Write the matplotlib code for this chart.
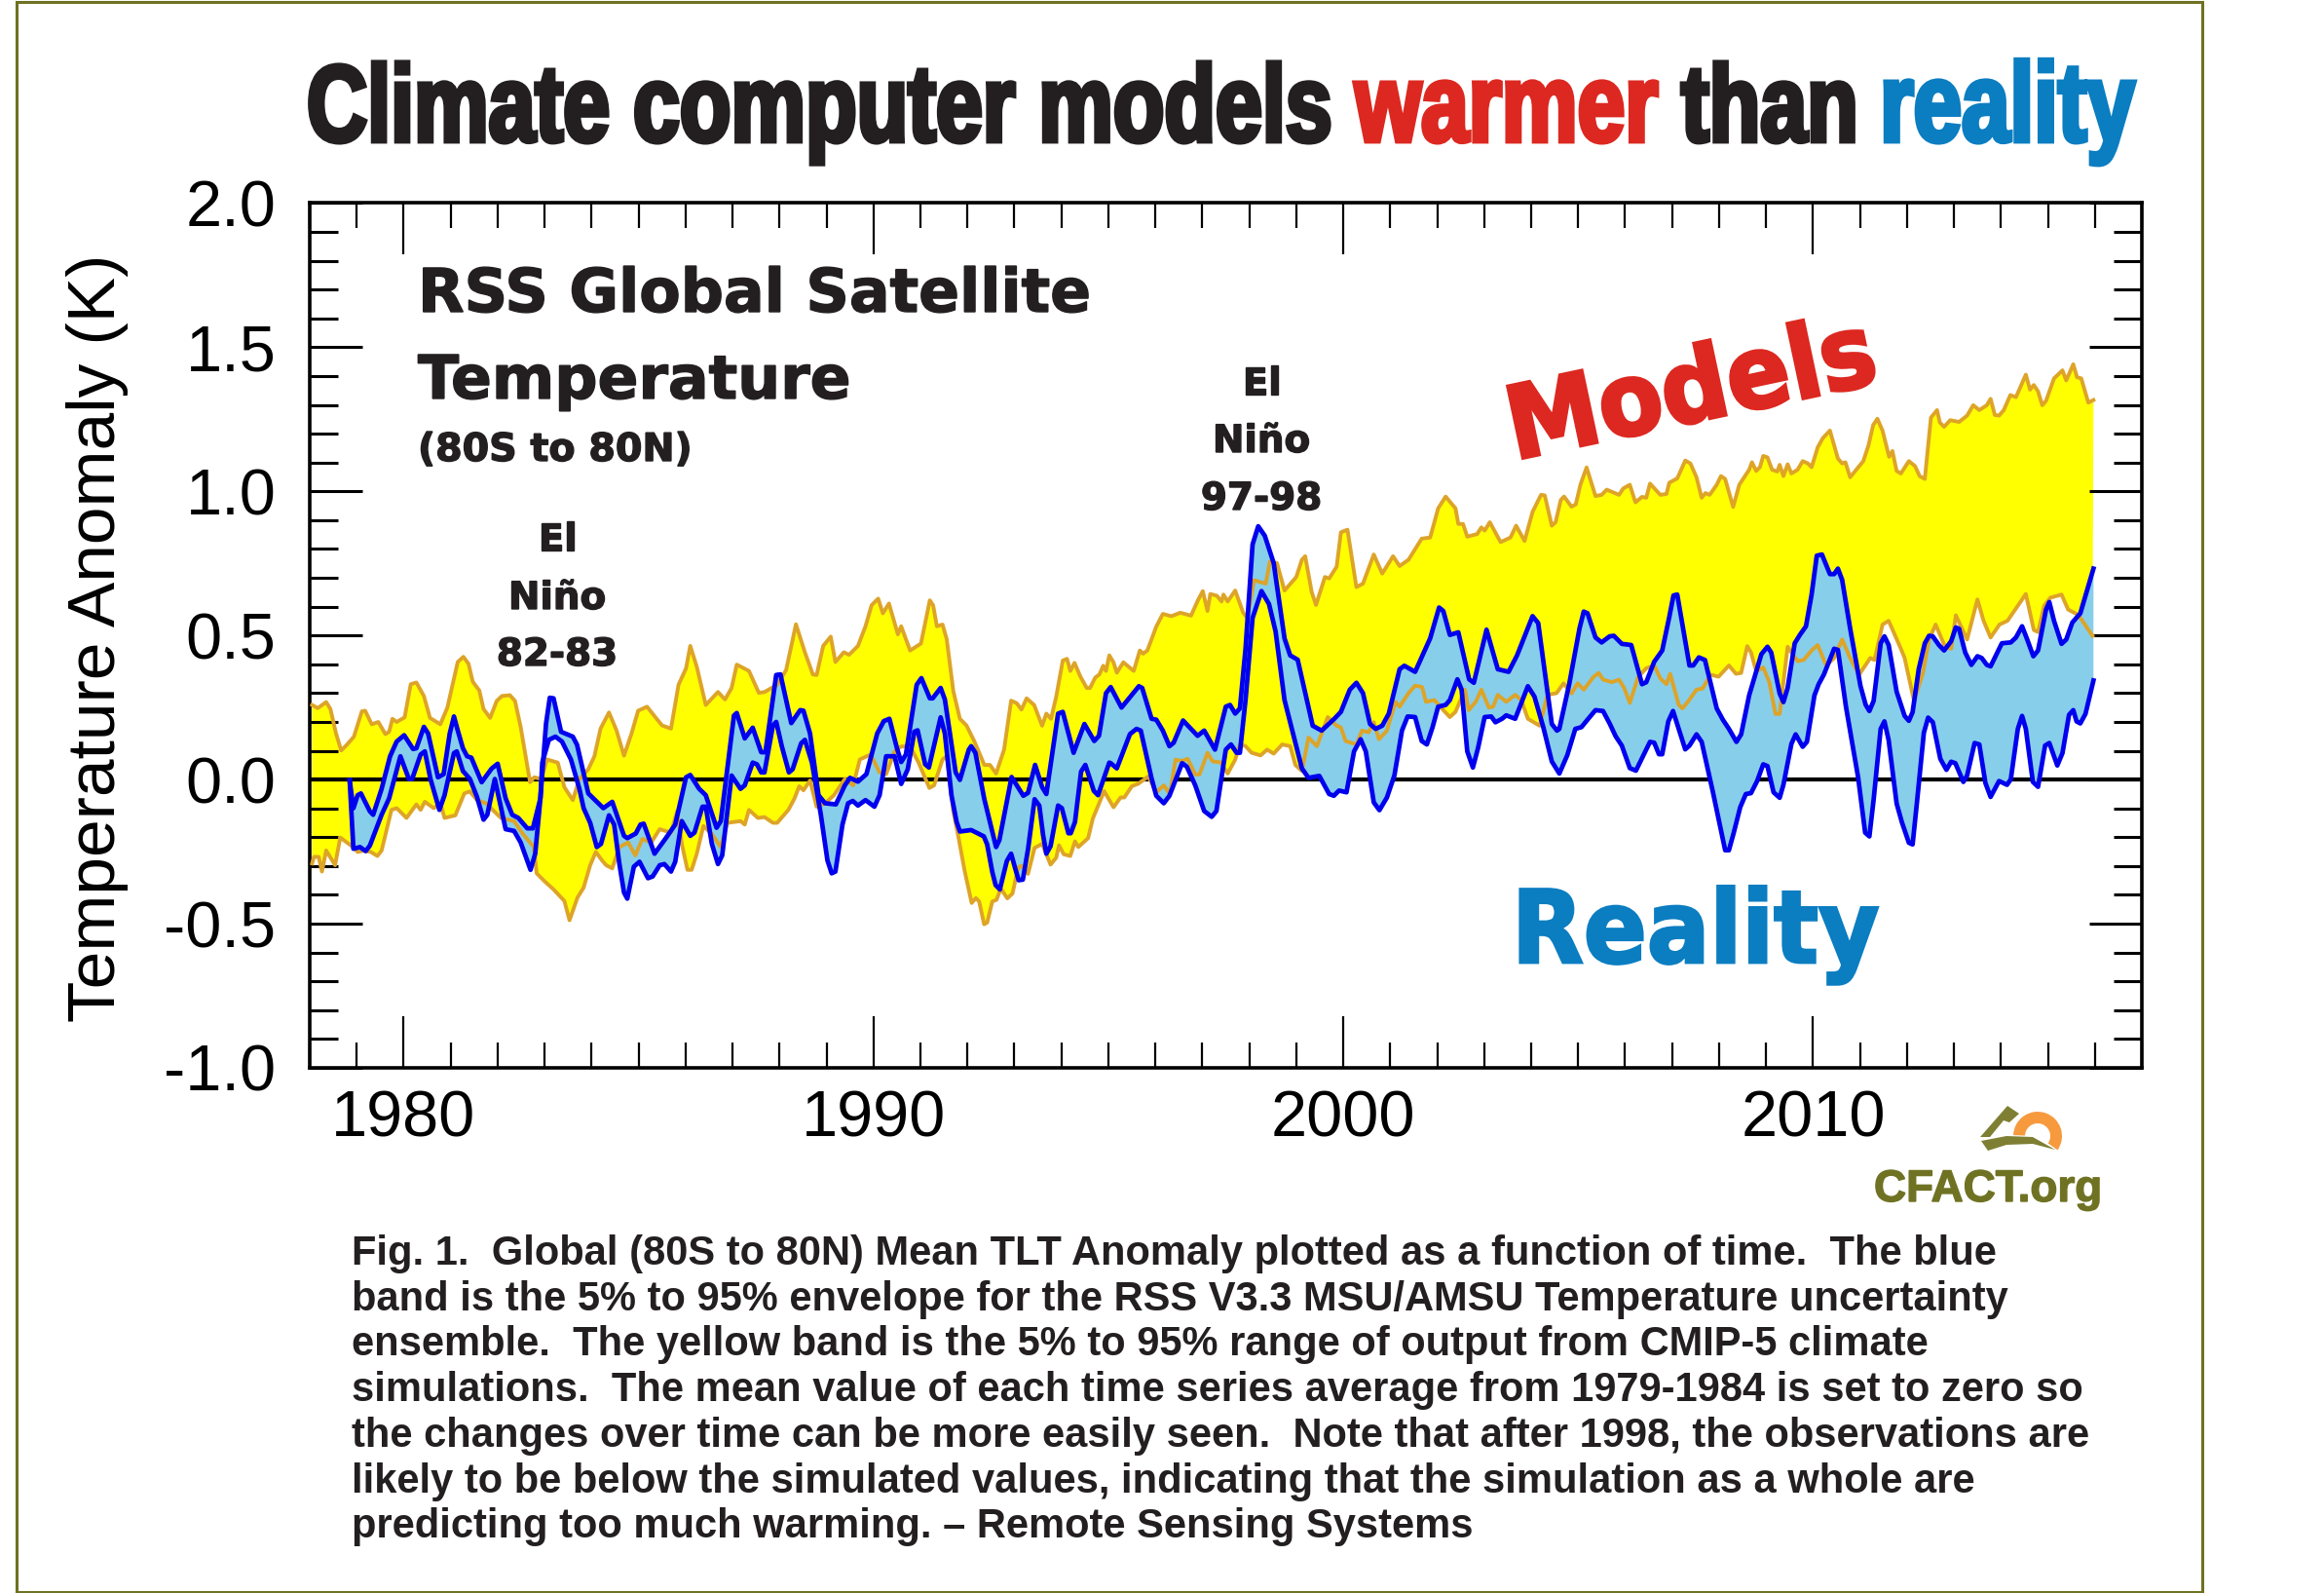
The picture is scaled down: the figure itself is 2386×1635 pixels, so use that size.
#!/usr/bin/env python3
"""RSS satellite temperature against CMIP-5 model range."""

import numpy as np
import matplotlib
matplotlib.use("Agg")
import matplotlib.pyplot as plt
import matplotlib.patheffects as pe
from matplotlib.patches import Polygon, Rectangle, Wedge
from matplotlib.ticker import MultipleLocator
from matplotlib.transforms import Affine2D

# (year, anomaly in K)
model_upper = [
    (1978.05,.259),(1978.17,.248),(1978.35,.269),(1978.44,.245),(1978.56,.160),(1978.67,.101),(1978.79,.121),(1978.94,.149),
    (1979.11,.237),(1979.18,.239),(1979.32,.192),(1979.46,.200),(1979.61,.158),(1979.69,.166),(1979.76,.211),(1979.85,.200),
    (1980.02,.216),(1980.15,.331),(1980.27,.337),(1980.43,.290),(1980.56,.214),(1980.78,.192),(1980.93,.250),(1981.15,.408),
    (1981.27,.426),(1981.38,.402),(1981.47,.340),(1981.61,.309),(1981.70,.245),(1981.84,.214),(1981.98,.273),(1982.09,.290),
    (1982.26,.293),(1982.37,.273),(1982.49,.183),(1982.69,-.009),(1982.78,.008),(1982.93,.002),(1983.05,.070),(1983.28,.059),
    (1983.42,-.026),(1983.60,-.071),(1983.74,.002),(1983.93,.036),(1984.06,.081),(1984.19,.177),(1984.37,.233),(1984.53,.171),
    (1984.69,.083),(1984.85,.160),(1984.99,.239),(1985.18,.253),(1985.36,.216),(1985.50,.188),(1985.69,.177),(1985.85,.329),
    (1986.01,.386),(1986.10,.464),(1986.24,.391),(1986.43,.259),(1986.69,.304),(1986.84,.278),(1986.98,.318),(1987.09,.399),
    (1987.35,.377),(1987.56,.301),(1987.68,.304),(1987.95,.329),(1988.14,.380),(1988.35,.539),(1988.54,.442),(1988.71,.365),
    (1988.79,.363),(1988.93,.464),(1989.09,.496),(1989.19,.408),(1989.37,.442),(1989.48,.433),(1989.67,.464),(1989.83,.532),
    (1989.96,.605),(1990.10,.628),(1990.20,.577),(1990.33,.611),(1990.52,.504),(1990.59,.532),(1990.78,.448),(1991.01,.472),
    (1991.20,.622),(1991.27,.605),(1991.35,.532),(1991.47,.538),(1991.56,.487),(1991.70,.307),(1991.84,.211),(1991.98,.188),
    (1992.15,.132),(1992.36,.051),(1992.48,.051),(1992.61,.021),(1992.78,.104),(1992.93,.274),(1993.05,.265),(1993.15,.243),
    (1993.26,.282),(1993.42,.259),(1993.59,.187),(1993.68,.229),(1993.78,.211),(1993.89,.288),(1994.03,.413),(1994.12,.419),
    (1994.19,.377),(1994.28,.405),(1994.40,.359),(1994.54,.318),(1994.61,.318),(1994.72,.354),(1994.81,.365),(1994.89,.395),
    (1994.95,.377),(1995.02,.431),(1995.11,.407),(1995.18,.371),(1995.32,.407),(1995.54,.377),(1995.67,.448),(1995.74,.437),
    (1995.83,.448),(1996.02,.531),(1996.16,.575),(1996.34,.567),(1996.53,.579),(1996.76,.569),(1996.90,.620),(1997.01,.654),
    (1997.11,.585),(1997.17,.644),(1997.31,.638),(1997.41,.618),(1997.45,.642),(1997.54,.618),(1997.70,.656),(1997.87,.579),
    (1997.96,.561),(1998.10,.692),(1998.35,.680),(1998.44,.757),(1998.59,.751),(1998.75,.656),(1999.00,.703),(1999.12,.763),
    (1999.19,.775),(1999.33,.650),(1999.42,.606),(1999.61,.703),(1999.70,.698),(1999.86,.739),(1999.95,.858),(2000.09,.867),
    (2000.28,.668),(2000.42,.680),(2000.65,.781),(2000.83,.715),(2001.06,.775),(2001.20,.741),(2001.39,.763),(2001.67,.836),
    (2001.85,.840),(2002.02,.941),(2002.18,.982),(2002.39,.941),(2002.45,.887),(2002.55,.887),(2002.64,.843),(2002.85,.852),
    (2002.94,.875),(2003.01,.864),(2003.12,.893),(2003.35,.824),(2003.56,.840),(2003.68,.881),(2003.86,.828),(2004.03,.929),
    (2004.21,.988),(2004.29,.986),(2004.44,.881),(2004.52,.893),(2004.63,.970),(2004.70,.982),(2004.86,.947),(2004.95,.955),
    (2005.05,1.024),(2005.18,1.083),(2005.37,.984),(2005.50,.988),(2005.61,1.006),(2005.87,.988),(2005.96,1.010),(2006.10,1.023),
    (2006.22,.962),(2006.36,.981),(2006.45,.978),(2006.53,1.027),(2006.75,.988),(2006.88,.991),(2006.94,1.030),(2007.11,1.045),
    (2007.28,1.107),(2007.39,1.097),(2007.52,1.049),(2007.63,.978),(2007.71,.994),(2007.80,.988),(2007.95,1.023),(2008.04,1.053),
    (2008.13,1.043),(2008.30,.946),(2008.43,1.023),(2008.64,1.075),(2008.70,1.101),(2008.79,1.071),(2008.87,1.084),(2008.94,1.123),
    (2009.03,1.118),(2009.13,1.075),(2009.24,1.069),(2009.29,1.092),(2009.37,1.053),(2009.46,1.094),(2009.54,1.062),(2009.67,1.075),
    (2009.78,1.105),(2009.89,1.097),(2009.97,1.084),(2010.10,1.153),(2010.21,1.185),(2010.36,1.211),(2010.53,1.114),(2010.62,1.097),
    (2010.69,1.101),(2010.79,1.049),(2010.92,1.075),(2011.07,1.105),(2011.18,1.159),(2011.28,1.230),(2011.37,1.252),(2011.48,1.211),
    (2011.62,1.120),(2011.69,1.140),(2011.78,1.071),(2011.87,1.062),(2012.04,1.105),(2012.17,1.088),(2012.27,1.053),(2012.38,1.043),
    (2012.51,1.256),(2012.64,1.282),(2012.70,1.239),(2012.79,1.224),(2012.92,1.247),(2013.11,1.241),(2013.28,1.263),(2013.41,1.299),
    (2013.54,1.282),(2013.70,1.299),(2013.78,1.321),(2013.87,1.265),(2013.96,1.263),(2014.06,1.282),(2014.20,1.334),(2014.32,1.327),
    (2014.53,1.405),(2014.62,1.353),(2014.70,1.369),(2014.79,1.347),(2014.88,1.299),(2014.96,1.314),(2015.13,1.392),(2015.31,1.420),
    (2015.39,1.385),(2015.54,1.441),(2015.62,1.396),(2015.71,1.392),(2015.86,1.308),(2015.97,1.317),
]
model_lower = [
    (1978.05,-.291),(1978.09,-.268),(1978.19,-.268),(1978.26,-.319),(1978.35,-.246),(1978.54,-.297),(1978.65,-.201),(1978.74,-.212),
    (1978.93,-.235),(1979.02,-.251),(1979.16,-.246),(1979.30,-.251),(1979.44,-.265),(1979.53,-.246),(1979.74,-.105),(1979.85,-.099),
    (1980.06,-.133),(1980.27,-.086),(1980.36,-.105),(1980.45,-.077),(1980.64,-.099),(1980.78,-.082),(1980.87,-.133),(1981.10,-.124),
    (1981.29,-.048),(1981.41,-.041),(1981.56,-.071),(1981.75,-.082),(1982.07,-.133),(1982.35,-.144),(1982.54,-.189),(1982.77,-.234),
    (1982.83,-.325),(1983.00,-.353),(1983.19,-.381),(1983.42,-.421),(1983.53,-.488),(1983.70,-.409),(1983.83,-.375),(1983.97,-.297),
    (1984.09,-.251),(1984.22,-.280),(1984.31,-.297),(1984.44,-.308),(1984.59,-.234),(1984.78,-.218),(1984.93,-.263),(1985.08,-.206),
    (1985.27,-.218),(1985.45,-.172),(1985.69,-.184),(1985.82,-.110),(1985.92,-.223),(1986.04,-.313),(1986.13,-.313),(1986.24,-.257),
    (1986.38,-.161),(1986.56,-.189),(1986.75,-.234),(1986.89,-.150),(1987.17,-.144),(1987.26,-.156),(1987.35,-.105),(1987.54,-.133),
    (1987.68,-.130),(1987.86,-.150),(1987.95,-.150),(1988.19,-.105),(1988.32,-.065),(1988.42,-.023),(1988.51,-.037),(1988.65,-.003),
    (1988.79,-.094),(1988.97,-.082),(1989.16,-.054),(1989.39,.002),(1989.57,-.020),(1989.71,.070),(1989.94,.087),(1990.13,.025),
    (1990.27,.019),(1990.45,.098),(1990.59,.115),(1990.78,.115),(1990.96,.059),(1991.19,-.029),(1991.29,-.020),(1991.47,.070),
    (1991.56,.081),(1991.70,-.110),(1991.80,-.192),(1991.94,-.316),(1992.09,-.428),(1992.18,-.411),(1992.25,-.423),(1992.355,-.502),
    (1992.42,-.496),(1992.53,-.423),(1992.62,-.417),(1992.71,-.378),(1992.85,-.412),(1992.96,-.395),(1993.08,-.305),(1993.15,-.299),
    (1993.29,-.327),(1993.43,-.237),(1993.59,-.223),(1993.77,-.295),(1993.89,-.271),(1993.95,-.228),(1994.05,-.259),(1994.19,-.265),
    (1994.29,-.214),(1994.36,-.234),(1994.57,-.203),(1994.67,-.135),(1994.91,-.040),(1995.11,-.096),(1995.26,-.062),(1995.34,-.062),
    (1995.50,-.023),(1995.64,-.014),(1995.85,.011),(1996.02,-.044),(1996.18,-.020),(1996.31,-.050),(1996.43,.069),(1996.57,.065),
    (1996.69,.072),(1996.85,.018),(1996.94,.018),(1997.11,.093),(1997.22,.063),(1997.39,.060),(1997.54,.021),(1997.70,.069),
    (1997.80,.122),(1997.92,.116),(1998.05,.093),(1998.24,.084),(1998.38,.104),(1998.52,.090),(1998.70,.122),(1998.87,.116),
    (1998.98,.051),(1999.12,.030),(1999.26,.146),(1999.44,.116),(1999.67,.217),(1999.86,.187),(1999.95,.181),(2000.05,.134),
    (2000.28,.122),(2000.40,.170),(2000.54,.164),(2000.65,.199),(2000.76,.140),(2000.93,.170),(2001.11,.270),(2001.20,.253),
    (2001.39,.300),(2001.53,.326),(2001.68,.321),(2001.76,.270),(2001.94,.276),(2002.13,.241),(2002.27,.217),(2002.39,.235),
    (2002.59,.312),(2002.67,.241),(2002.82,.270),(2002.94,.312),(2003.10,.250),(2003.19,.253),(2003.29,.294),(2003.47,.270),
    (2003.66,.294),(2003.79,.276),(2003.93,.211),(2004.18,.187),(2004.35,.294),(2004.54,.300),(2004.69,.334),(2004.86,.299),
    (2004.99,.334),(2005.12,.312),(2005.33,.357),(2005.44,.370),(2005.53,.347),(2005.72,.338),(2005.87,.347),(2005.98,.318),
    (2006.10,.266),(2006.28,.357),(2006.45,.386),(2006.62,.396),(2006.75,.351),(2006.88,.331),(2006.96,.367),(2007.14,.260),
    (2007.22,.247),(2007.35,.273),(2007.52,.312),(2007.65,.316),(2007.82,.364),(2007.99,.357),(2008.21,.396),(2008.36,.367),
    (2008.47,.370),(2008.60,.463),(2008.68,.441),(2008.79,.376),(2008.94,.389),(2009.07,.338),(2009.20,.228),(2009.29,.228),
    (2009.46,.461),(2009.67,.411),(2009.80,.415),(2009.97,.448),(2010.10,.467),(2010.28,.396),(2010.45,.422),(2010.62,.486),
    (2010.79,.422),(2010.98,.364),(2011.22,.422),(2011.31,.415),(2011.48,.538),(2011.61,.551),(2011.87,.454),(2011.95,.422),
    (2012.15,.273),(2012.34,.370),(2012.47,.486),(2012.61,.538),(2012.81,.461),(2012.94,.454),(2013.04,.570),(2013.28,.486),
    (2013.50,.625),(2013.63,.551),(2013.78,.493),(2013.97,.538),(2014.14,.551),(2014.36,.603),(2014.53,.644),(2014.70,.519),
    (2014.79,.512),(2014.92,.603),(2015.05,.631),(2015.29,.642),(2015.43,.590),(2015.65,.571),(2015.95,.499),
]
rss_upper = [
    (1978.85,-.003),(1978.93,-.099),(1979.02,-.054),(1979.09,-.048),(1979.28,-.110),(1979.35,-.122),(1979.53,-.032),(1979.71,.081),
    (1979.85,.132),(1980.01,.154),(1980.20,.106),(1980.27,.109),(1980.43,.183),(1980.52,.160),(1980.73,.008),(1980.85,.019),
    (1980.98,.160),(1981.07,.219),(1981.15,.171),(1981.26,.109),(1981.35,.081),(1981.44,.076),(1981.66,-.009),(1981.87,.038),
    (1982.00,.055),(1982.17,-.065),(1982.31,-.122),(1982.44,-.133),(1982.63,-.169),(1982.75,-.169),(1982.91,-.065),(1983.03,.194),
    (1983.11,.284),(1983.19,.282),(1983.35,.166),(1983.60,.149),(1983.69,.121),(1983.93,-.048),(1984.25,-.099),(1984.44,-.077),
    (1984.69,-.195),(1984.76,-.203),(1984.94,-.187),(1985.04,-.156),(1985.11,-.153),(1985.34,-.257),(1985.59,-.201),(1985.78,-.156),
    (1986.01,.008),(1986.10,.016),(1986.29,-.032),(1986.43,-.054),(1986.66,-.167),(1986.75,-.144),(1987.03,.222),(1987.09,.231),
    (1987.26,.143),(1987.43,.180),(1987.61,.095),(1987.70,.095),(1987.93,.363),(1988.02,.365),(1988.25,.196),(1988.44,.241),
    (1988.51,.239),(1988.65,.160),(1988.83,-.054),(1988.97,-.082),(1989.20,-.086),(1989.39,-.020),(1989.50,.006),(1989.67,-.007),
    (1989.85,.019),(1990.08,.160),(1990.22,.203),(1990.34,.211),(1990.50,.109),(1990.59,.061),(1990.69,.087),(1990.92,.329),
    (1991.02,.352),(1991.20,.282),(1991.26,.282),(1991.43,.318),(1991.52,.278),(1991.75,.025),(1991.84,-.001),(1992.03,.104),
    (1992.08,.116),(1992.17,.093),(1992.36,-.068),(1992.61,-.234),(1992.68,-.210),(1992.94,.009),(1993.19,-.056),(1993.29,-.046),
    (1993.44,.051),(1993.59,-.026),(1993.68,-.050),(1993.93,.229),(1994.03,.235),(1994.26,.093),(1994.49,.193),(1994.70,.134),
    (1994.80,.152),(1994.95,.300),(1995.05,.321),(1995.28,.250),(1995.65,.324),(1995.72,.318),(1995.92,.211),(1996.02,.208),
    (1996.16,.170),(1996.30,.116),(1996.39,.128),(1996.59,.205),(1996.90,.152),(1997.04,.170),(1997.27,.104),(1997.50,.253),
    (1997.59,.259),(1997.70,.229),(1997.80,.247),(1997.92,.454),(1998.07,.816),(1998.19,.879),(1998.33,.846),(1998.52,.751),
    (1998.75,.490),(1998.87,.431),(1999.03,.416),(1999.35,.187),(1999.54,.170),(1999.81,.211),(1999.95,.235),(2000.14,.312),
    (2000.28,.336),(2000.42,.300),(2000.57,.193),(2000.69,.176),(2000.83,.187),(2000.97,.229),(2001.20,.383),(2001.30,.395),
    (2001.53,.374),(2001.85,.490),(2002.04,.597),(2002.13,.585),(2002.27,.502),(2002.45,.511),(2002.68,.348),(2002.78,.336),
    (2003.05,.520),(2003.29,.383),(2003.52,.374),(2003.70,.431),(2004.03,.567),(2004.15,.543),(2004.44,.193),(2004.55,.170),
    (2004.60,.176),(2004.81,.331),(2005.03,.525),(2005.12,.583),(2005.20,.577),(2005.37,.493),(2005.50,.476),(2005.67,.497),
    (2005.76,.499),(2005.93,.471),(2006.13,.467),(2006.36,.331),(2006.45,.338),(2006.62,.409),(2006.79,.448),(2006.94,.564),
    (2007.03,.639),(2007.11,.642),(2007.37,.396),(2007.45,.396),(2007.57,.424),(2007.70,.415),(2007.95,.247),(2008.08,.208),
    (2008.21,.176),(2008.37,.131),(2008.47,.157),(2008.64,.292),(2008.90,.435),(2009.03,.461),(2009.11,.441),(2009.29,.299),
    (2009.37,.269),(2009.46,.318),(2009.61,.473),(2009.72,.502),(2009.85,.532),(2009.97,.642),(2010.08,.777),(2010.19,.781),
    (2010.36,.713),(2010.45,.713),(2010.53,.732),(2010.62,.693),(2010.79,.525),(2011.01,.325),(2011.12,.260),(2011.20,.238),
    (2011.29,.273),(2011.44,.473),(2011.52,.497),(2011.61,.467),(2011.78,.305),(2011.95,.221),(2012.04,.204),(2012.12,.234),
    (2012.25,.383),(2012.38,.473),(2012.47,.499),(2012.55,.497),(2012.68,.467),(2012.79,.448),(2012.94,.480),(2013.04,.528),
    (2013.11,.523),(2013.24,.441),(2013.37,.398),(2013.50,.428),(2013.59,.422),(2013.70,.398),(2013.78,.393),(2014.02,.473),
    (2014.21,.476),(2014.32,.493),(2014.45,.532),(2014.56,.486),(2014.69,.428),(2014.79,.448),(2014.96,.590),(2015.03,.616),
    (2015.13,.551),(2015.29,.471),(2015.39,.486),(2015.52,.545),(2015.69,.577),(2015.97,.732),
]
rss_lower = [
    (1978.85,-.003),(1978.93,-.240),(1979.07,-.234),(1979.19,-.248),(1979.28,-.229),(1979.53,-.122),(1979.69,-.065),(1979.93,.081),
    (1980.11,.002),(1980.18,.002),(1980.36,.087),(1980.45,.098),(1980.57,.002),(1980.76,-.105),(1980.87,-.054),(1981.07,.092),
    (1981.13,.098),(1981.26,.030),(1981.41,.002),(1981.56,-.060),(1981.70,-.139),(1981.78,-.122),(1981.94,.002),(1982.17,-.172),
    (1982.35,-.178),(1982.49,-.218),(1982.70,-.313),(1982.80,-.257),(1982.91,-.065),(1982.95,.059),(1983.09,.138),(1983.23,.149),
    (1983.37,.132),(1983.56,.070),(1983.74,-.032),(1983.83,-.099),(1983.97,-.150),(1984.11,-.234),(1984.20,-.223),(1984.37,-.124),
    (1984.48,-.156),(1984.59,-.291),(1984.69,-.392),(1984.76,-.413),(1984.90,-.302),(1985.02,-.285),(1985.20,-.342),(1985.30,-.336),
    (1985.45,-.297),(1985.55,-.293),(1985.69,-.319),(1985.78,-.285),(1985.92,-.144),(1986.10,-.195),(1986.19,-.184),(1986.36,-.094),
    (1986.43,-.094),(1986.56,-.223),(1986.69,-.293),(1986.78,-.263),(1986.98,.014),(1987.17,-.032),(1987.26,-.020),(1987.43,.059),
    (1987.52,.053),(1987.61,.025),(1987.68,.025),(1987.86,.188),(1987.93,.200),(1988.05,.115),(1988.20,.025),(1988.28,.036),
    (1988.46,.126),(1988.54,.138),(1988.69,.059),(1988.88,-.122),(1989.02,-.280),(1989.11,-.325),(1989.19,-.319),(1989.34,-.156),
    (1989.46,-.082),(1989.56,-.074),(1989.67,-.090),(1989.83,-.071),(1990.02,-.094),(1990.13,-.054),(1990.27,.081),(1990.45,.081),
    (1990.59,-.015),(1990.73,.036),(1990.87,.166),(1990.94,.171),(1991.10,.053),(1991.18,.042),(1991.43,.216),(1991.52,.160),
    (1991.66,-.054),(1991.77,-.147),(1991.84,-.180),(1992.08,-.175),(1992.35,-.197),(1992.42,-.225),(1992.53,-.321),(1992.60,-.366),
    (1992.69,-.381),(1992.84,-.282),(1992.93,-.257),(1993.01,-.304),(1993.09,-.349),(1993.18,-.347),(1993.29,-.242),(1993.43,-.068),
    (1993.53,-.090),(1993.61,-.192),(1993.68,-.257),(1993.77,-.231),(1993.93,-.090),(1994.01,-.099),(1994.15,-.186),(1994.20,-.186),
    (1994.29,-.147),(1994.42,.028),(1994.51,.051),(1994.69,-.039),(1994.78,-.054),(1995.02,.059),(1995.05,.057),(1995.18,.039),
    (1995.46,.158),(1995.60,.176),(1995.69,.170),(1995.92,.004),(1996.02,-.056),(1996.18,-.082),(1996.30,-.056),(1996.57,.057),
    (1996.67,.045),(1996.85,-.020),(1997.04,-.109),(1997.20,-.129),(1997.30,-.109),(1997.50,.104),(1997.61,.122),(1997.73,.093),
    (1997.80,.093),(1997.92,.276),(1998.07,.561),(1998.26,.654),(1998.42,.609),(1998.56,.514),(1998.75,.276),(1999.12,.039),
    (1999.26,.006),(1999.49,.013),(1999.70,-.050),(1999.80,-.056),(1999.91,-.038),(2000.07,-.044),(2000.23,.098),(2000.37,.140),
    (2000.48,.098),(2000.65,-.079),(2000.77,-.106),(2000.93,-.062),(2001.09,.015),(2001.25,.170),(2001.37,.219),(2001.53,.217),
    (2001.67,.134),(2001.78,.122),(2001.90,.181),(2002.02,.253),(2002.18,.259),(2002.27,.276),(2002.43,.348),(2002.52,.312),
    (2002.64,.098),(2002.76,.042),(2002.87,.110),(2003.01,.217),(2003.15,.219),(2003.24,.199),(2003.38,.211),(2003.47,.223),
    (2003.66,.211),(2003.79,.265),(2003.93,.324),(2004.07,.288),(2004.26,.181),(2004.44,.063),(2004.60,.021),(2004.77,.085),
    (2004.94,.176),(2005.07,.182),(2005.20,.208),(2005.37,.241),(2005.53,.238),(2005.67,.195),(2005.80,.150),(2005.93,.118),
    (2006.10,.040),(2006.23,.031),(2006.53,.131),(2006.62,.128),(2006.72,.088),(2006.79,.088),(2006.92,.202),(2007.02,.238),
    (2007.28,.105),(2007.37,.118),(2007.52,.157),(2007.63,.131),(2007.87,-.044),(2008.13,-.245),(2008.21,-.245),(2008.31,-.186),
    (2008.45,-.096),(2008.57,-.050),(2008.68,-.047),(2008.81,-.005),(2008.94,.053),(2009.03,.047),(2009.16,-.044),(2009.29,-.063),
    (2009.37,-.018),(2009.54,.124),(2009.63,.157),(2009.78,.114),(2009.87,.131),(2010.03,.292),(2010.12,.331),(2010.23,.364),
    (2010.45,.454),(2010.53,.450),(2010.70,.254),(2010.96,.008),(2011.11,-.184),(2011.20,-.197),(2011.29,-.070),(2011.44,.176),
    (2011.52,.202),(2011.61,.137),(2011.78,-.083),(2011.89,-.147),(2012.04,-.219),(2012.12,-.225),(2012.21,-.083),(2012.36,.163),
    (2012.45,.215),(2012.55,.199),(2012.71,.072),(2012.84,.034),(2012.94,.062),(2013.03,.057),(2013.20,-.008),(2013.28,.014),
    (2013.44,.127),(2013.54,.122),(2013.67,-.012),(2013.78,-.060),(2013.96,-.005),(2014.13,-.018),(2014.21,.001),(2014.36,.176),
    (2014.45,.221),(2014.53,.176),(2014.68,-.008),(2014.79,-.025),(2014.94,.118),(2015.03,.127),(2015.20,.049),(2015.31,.092),
    (2015.45,.225),(2015.54,.241),(2015.61,.202),(2015.69,.195),(2015.80,.228),(2015.97,.344),
]

year_ticks = [1980, 1990, 2000, 2010]
temp_ticks = [-1.0, -0.5, 0.0, 0.5, 1.0, 1.5, 2.0]
temp_labels = ["-1.0", "-0.5", "0.0", "0.5", "1.0", "1.5", "2.0"]

caption = [
    "Fig. 1.  Global (80S to 80N) Mean TLT Anomaly plotted as a function of time.  The blue",
    "band is the 5% to 95% envelope for the RSS V3.3 MSU/AMSU Temperature uncertainty",
    "ensemble.  The yellow band is the 5% to 95% range of output from CMIP-5 climate",
    "simulations.  The mean value of each time series average from 1979-1984 is set to zero so",
    "the changes over time can be more easily seen.  Note that after 1998, the observations are",
    "likely to be below the simulated values, indicating that the simulation as a whole are",
    "predicting too much warming. \u2013 Remote Sensing Systems",
]

INK = "#231f20"
OLIVE = "#6f7222"
W, H = 2386, 1635


class Reshape(pe.AbstractPathEffect):
    """Stretch glyphs about the baseline and fatten them, for the poster lettering."""

    def __init__(self, yscale=1.0, stroke=0.0):
        super().__init__()
        self.yscale = yscale
        self.stroke = stroke

    def draw_path(self, renderer, gc, tpath, affine, rgbFace=None):
        gc0 = renderer.new_gc()
        gc0.copy_properties(gc)
        gc0.set_linewidth(self.stroke)
        gc0.set_foreground(rgbFace)
        gc0.set_joinstyle("miter")
        renderer.draw_path(gc0, tpath, Affine2D().scale(1, self.yscale) + affine, rgbFace)
        gc0.restore()


plt.rcParams["font.family"] = ["Liberation Sans", "DejaVu Sans"]
fig = plt.figure(figsize=(W / 100, H / 100), dpi=100, facecolor="white")

ax = fig.add_axes([318 / W, 1 - 1096 / H, (2199 - 318) / W, (1096 - 208.5) / H])
mux, muy = np.array(model_upper).T
mlx, mly = np.array(model_lower).T
rux, ruy = np.array(rss_upper).T
rlx, rly = np.array(rss_lower).T

ax.fill(np.r_[mux, mlx[::-1]], np.r_[muy, mly[::-1]], color="#ffff00", lw=0, zorder=1)
ax.axhline(0, color="black", lw=3.0, zorder=2)
ax.fill(np.r_[rux, rlx[::-1]], np.r_[ruy, rly[::-1]], color="#87ceeb", lw=0, zorder=3)
ax.plot(mux, muy, color="#dda428", lw=2.8, zorder=4)
ax.plot(mlx, mly, color="#dda428", lw=2.8, zorder=4)
ax.plot(rux, ruy, color="#0000ee", lw=3.4, zorder=5)
ax.plot(rlx, rly, color="#0000ee", lw=3.4, zorder=5)

ax.set_xlim(1978, 2017)
ax.set_ylim(-1, 2)
ax.set_xticks(year_ticks)
ax.set_yticks(temp_ticks, labels=temp_labels)
ax.xaxis.set_minor_locator(MultipleLocator(1))
ax.yaxis.set_minor_locator(MultipleLocator(0.1))
ax.tick_params(axis="both", which="both", direction="in", top=True, right=True, color="black")
ax.tick_params(axis="x", which="major", length=38, width=1.6, labelsize=48, pad=16)
ax.tick_params(axis="x", which="minor", length=19, width=1.6)
ax.tick_params(axis="y", which="major", length=39, width=2.2, labelsize=48, pad=25)
ax.tick_params(axis="y", which="minor", length=21, width=2.2)
for side in ax.spines.values():
    side.set_linewidth(2.6)

# page overlay in pixel coordinates for the lettering, frame and logo
page = fig.add_axes([0, 0, 1, 1], zorder=10)
page.set_xlim(0, W)
page.set_ylim(H, 0)
page.axis("off")
page.patch.set_alpha(0)

page.add_patch(Rectangle((17, 2), 2261 - 17, 1632, fill=False, ec=OLIVE, lw=2.2))

page.text(100, 655, "Temperature Anomaly (K)", rotation=90, ha="center", va="center", fontsize=50, color="black")

for x, word, colour, size in [(315, "Climate computer models", INK, 62),
                              (1391, "warmer", "#dc2820", 63),
                              (1726, "than", INK, 62),
                              (1930, "reality", "#0b7dc1", 64)]:
    page.text(x, 145, word, color=colour, fontsize=size, fontweight="bold", va="baseline", ha="left",
              path_effects=[Reshape(yscale=1.3, stroke=3.5)])

bold = dict(family="DejaVu Sans", fontweight="bold", color=INK, va="baseline")
heavy = [Reshape(stroke=1.0)]
page.text(429, 320, "RSS Global Satellite", fontsize=44.5, ha="left", path_effects=heavy, **bold)
page.text(429, 409, "Temperature", fontsize=44.5, ha="left", path_effects=heavy, **bold)
page.text(429, 473, "(80S to 80N)", fontsize=28.5, ha="left", path_effects=heavy, **bold)
for x, rows, words in [(572, (565, 625, 683), ("El", "Ni\u00f1o", "82-83")),
                       (1295, (405, 464, 523), ("El", "Ni\u00f1o", "97-98"))]:
    for y, word in zip(rows, words):
        page.text(x, y, word, fontsize=28, ha="center", path_effects=heavy, **bold)

page.text(1555, 472, "Models", family="DejaVu Sans", fontweight="bold", color="#dc2820", fontsize=69,
          rotation=12, rotation_mode="anchor", ha="left", va="baseline",
          path_effects=[Reshape(yscale=1.08, stroke=2.5)])
page.text(1552, 988, "Reality", family="DejaVu Sans", fontweight="bold", color="#0b7dc1", fontsize=69,
          ha="left", va="baseline", path_effects=[Reshape(yscale=1.08, stroke=2.0)])

for i, line in enumerate(caption):
    page.text(361, 1298 + i * 46.7, line, fontsize=30, fontweight="bold", color=INK, ha="left", va="baseline")

# CFACT mark
page.add_patch(Polygon([(2033, 1167), (2061, 1135), (2073, 1143), (2063, 1152), (2057, 1150), (2043, 1167)], fc="#7f7f34", ec="none"))
page.add_patch(Polygon([(2034, 1171), (2060, 1166), (2087, 1167), (2110, 1180), (2087, 1174), (2060, 1175), (2041, 1181)], fc="#7f7f34", ec="none"))
page.add_patch(Wedge((2092, 1166), 25, 182, 395, width=12, fc="#f79a3e", ec="none"))
page.text(1924, 1233, "CFACT.org", color=OLIVE, fontsize=33, fontweight="bold", ha="left", va="baseline",
          path_effects=[Reshape(stroke=1.0)])

fig.savefig("out.png", dpi=100)
